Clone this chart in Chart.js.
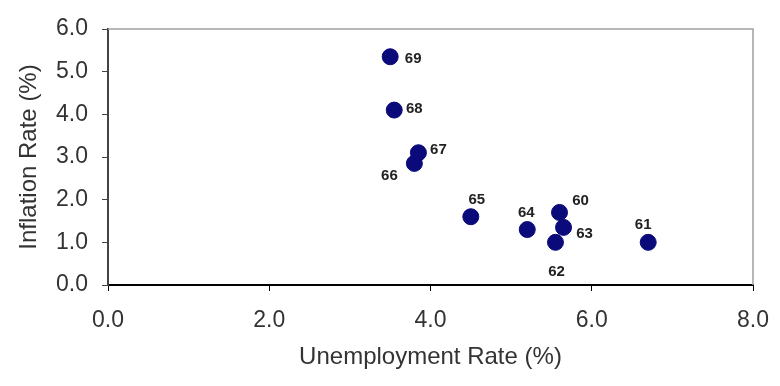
<!DOCTYPE html>
<html>
<head>
<meta charset="utf-8">
<script src="https://cdn.jsdelivr.net/npm/chart.js@4.4.1/dist/chart.umd.min.js"></script>
<style>
  html, body { margin: 0; padding: 0; background: #fff; }
  #wrap { width: 780px; height: 386px; }
</style>
</head>
<body>
<div id="wrap"><canvas id="phillips"></canvas></div>
<script>
const years = ['60', '61', '62', '63', '64', '65', '66', '67', '68', '69'];
const unemployment = [5.6, 6.7, 5.55, 5.65, 5.2, 4.5, 3.8, 3.85, 3.55, 3.5];
const inflation = [1.7, 1.0, 1.0, 1.35, 1.3, 1.6, 2.85, 3.1, 4.1, 5.35];
const xTicks = [0, 2, 4, 6, 8];
const yTicks = [0, 1, 2, 3, 4, 5, 6];

// where each year label sits relative to its dot (px)
const labelOffsets = {
    '60': [21, -12], '61': [-5, -17], '62': [1, 30], '63': [21, 6], '64': [-1, -17],
    '65': [6, -17], '66': [-25, 12], '67': [20, -3], '68': [20, -1], '69': [23, 2]
};

const FONT = '"Liberation Sans", Arial, sans-serif';

const yearLabels = {
    id: 'yearLabels',
    afterDatasetsDraw(chart) {
        const ctx = chart.ctx;
        const meta = chart.getDatasetMeta(0);
        ctx.save();
        ctx.font = 'bold 15px ' + FONT;
        ctx.fillStyle = '#222';
        ctx.textAlign = 'center';
        ctx.textBaseline = 'middle';
        meta.data.forEach((pt, i) => {
            const off = labelOffsets[years[i]];
            ctx.fillText(years[i], pt.x + off[0], pt.y + off[1]);
        });
        ctx.restore();
    }
};

const frame = {
    id: 'frame',
    beforeDatasetsDraw(chart) {
        const {ctx, chartArea: a} = chart;
        ctx.save();
        ctx.strokeStyle = '#a0a0a0';
        ctx.lineWidth = 1.5;
        ctx.beginPath();
        ctx.moveTo(a.left, a.top);
        ctx.lineTo(a.right, a.top);
        ctx.lineTo(a.right, a.bottom);
        ctx.stroke();
        ctx.restore();
    }
};

const ctx = document.getElementById('phillips').getContext('2d');
new Chart(ctx, {
    type: 'scatter',
    data: {
        datasets: [{
            label: 'Phillips curve',
            data: unemployment.map((u, i) => ({x: u, y: inflation[i]})),
            backgroundColor: '#0a0a7a',
            borderColor: '#0a0a7a',
            pointRadius: 8,
            pointHoverRadius: 8
        }]
    },
    options: {
        responsive: true,
        maintainAspectRatio: false,
        animation: false,
        layout: { padding: { top: 29, right: 27, left: 0, bottom: 0 } },
        plugins: {
            legend: { display: false },
            tooltip: { enabled: false }
        },
        scales: {
            x: {
                type: 'linear',
                min: 0,
                max: 8,
                afterBuildTicks: s => { s.ticks = xTicks.map(v => ({value: v})); },
                afterFit: s => { s.height = 101; s.paddingLeft = 0; s.paddingRight = 0; },
                grid: { drawOnChartArea: false, drawTicks: true, tickLength: 6, color: '#000' },
                border: { color: '#000', width: 2 },
                ticks: {
                    padding: 16,
                    color: '#333',
                    font: { family: FONT, size: 23 },
                    callback: v => v.toFixed(1)
                },
                title: {
                    display: true,
                    text: 'Unemployment Rate (%)',
                    color: '#333',
                    font: { family: FONT, size: 24 },
                    padding: { top: 0, bottom: 14 }
                }
            },
            y: {
                type: 'linear',
                min: 0,
                max: 6,
                afterBuildTicks: s => { s.ticks = yTicks.map(v => ({value: v})); },
                afterFit: s => { s.width = 108; s.paddingTop = 0; s.paddingBottom = 0; },
                grid: { drawOnChartArea: false, drawTicks: true, tickLength: 6, color: '#444' },
                border: { color: '#444', width: 2 },
                ticks: {
                    padding: 14,
                    color: '#333',
                    font: { family: FONT, size: 23 },
                    callback: v => v.toFixed(1)
                },
                title: {
                    display: true,
                    text: 'Inflation Rate (%)',
                    color: '#333',
                    font: { family: FONT, size: 24 },
                    padding: { top: 15, bottom: 0 }
                }
            }
        }
    },
    plugins: [frame, yearLabels]
});
</script>
</body>
</html>
